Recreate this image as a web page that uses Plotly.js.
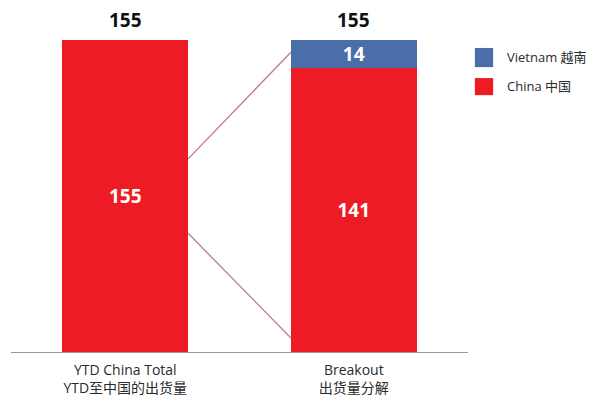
<!DOCTYPE html>
<html>
<head>
<meta charset="utf-8">
<script src="https://cdn.plot.ly/plotly-3.0.1.min.js"></script>
<style>html,body{margin:0;padding:0;background:#fff;}#chart{width:610px;height:401px;}</style>
</head>
<body>
<div id="chart"></div>
<script>
// Data
const categories = ["YTD China Total<br>YTD至中国的出货量", "Breakout<br>出货量分解"];
const chinaValues = [155, 141];
const vietnamValues = [null, 14];
const totals = [155, 155];
const seriesNames = ["Vietnam 越南", "China 中国"];
// connector lines (from left bar edge to right bar edge), in value units
const connectorUpper = [96, 149];
const connectorLower = [59, 7];

const RED = "#ed1c24";
const BLUE = "#4a6ea8";
const FONT = "'Open Sans', 'Noto Sans CJK SC', sans-serif";
const BAR_W = 0.55;

const valueFont = {color: "#ffffff", size: 19, family: FONT, weight: 700};

const traces = [
  {
    type: "bar", x: categories, y: chinaValues, name: seriesNames[1],
    marker: {color: RED}, width: BAR_W,
    text: chinaValues.map(v => v == null ? "" : String(v)),
    textposition: "inside", insidetextanchor: "middle", textangle: 0, constraintext: "none",
    textfont: valueFont, hoverinfo: "none", showlegend: false
  },
  {
    type: "bar", x: categories, y: vietnamValues, name: seriesNames[0],
    marker: {color: BLUE}, width: BAR_W,
    text: vietnamValues.map(v => v == null ? "" : String(v)),
    textposition: "inside", insidetextanchor: "middle", textangle: 0, constraintext: "none",
    textfont: valueFont, hoverinfo: "none", showlegend: false
  }
];

const xL = BAR_W / 2, xR = 1 - BAR_W / 2;
const shapes = [
  {type: "line", xref: "x", yref: "y", x0: xL, x1: xR, y0: connectorUpper[0], y1: connectorUpper[1],
   line: {color: "rgba(170,80,90,0.75)", width: 1.3}},
  {type: "line", xref: "x", yref: "y", x0: xL, x1: xR, y0: connectorLower[0], y1: connectorLower[1],
   line: {color: "rgba(170,80,90,0.75)", width: 1.3}},
  // legend swatches
  {type: "rect", xref: "paper", yref: "paper", x0: 1.015, x1: 1.055, y0: 0.833, y1: 0.889,
   fillcolor: BLUE, line: {width: 0}},
  {type: "rect", xref: "paper", yref: "paper", x0: 1.015, x1: 1.055, y0: 0.751, y1: 0.801,
   fillcolor: RED, line: {width: 0}}
];

const annotations = [
  {xref: "paper", yref: "paper", x: 1.081, y: 0.862, xanchor: "left", yanchor: "middle",
   text: seriesNames[0], showarrow: false, font: {family: FONT, size: 13, color: "#2a2a2a"}},
  {xref: "paper", yref: "paper", x: 1.081, y: 0.778, xanchor: "left", yanchor: "middle",
   text: seriesNames[1], showarrow: false, font: {family: FONT, size: 13, color: "#2a2a2a"}}
].concat(categories.map((c, i) => ({
  xref: "x", yref: "y", x: c, y: totals[i], xanchor: "center", yanchor: "bottom",
  yshift: 5, text: String(totals[i]), showarrow: false,
  font: {family: FONT, size: 19, color: "#111111", weight: 700}
})));

const layout = {
  width: 610, height: 401,
  margin: {l: 11, r: 142, t: 10, b: 49, pad: 0},
  paper_bgcolor: "#ffffff", plot_bgcolor: "#ffffff",
  barmode: "stack",
  showlegend: false,
  xaxis: {
    type: "category", range: [-0.5, 1.5],
    showline: true, linecolor: "#9a9a9a", linewidth: 1,
    showgrid: false, zeroline: false, ticks: "", ticklabelstandoff: 5,
    tickfont: {family: FONT, size: 14, color: "#2a2a2a"}
  },
  yaxis: {
    range: [0, 170], visible: false, showgrid: false, zeroline: false
  },
  shapes: shapes,
  annotations: annotations,
  font: {family: FONT}
};

Plotly.newPlot("chart", traces, layout, {staticPlot: true, displayModeBar: false});
</script>
</body>
</html>
